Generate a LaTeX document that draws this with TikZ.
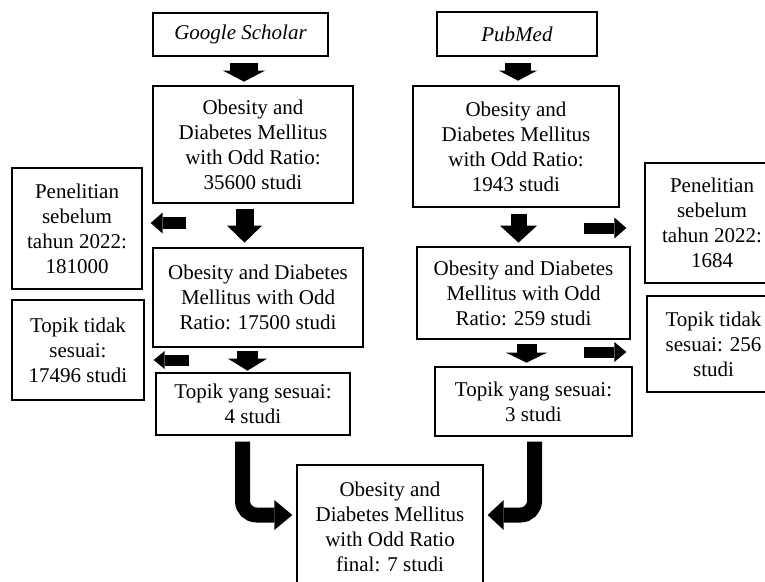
\documentclass[tikz,border=0pt]{standalone}
\usepackage{fontspec}
\setmainfont{Liberation Serif}
\usetikzlibrary{arrows.meta,calc}
\begin{document}
\begin{tikzpicture}[x=1pt,y=-1pt,
  box/.style n args={2}{draw, line width=1.3pt, align=center, inner sep=0pt,
    minimum width=#1, minimum height=#2, font=\fontsize{21}{25}\selectfont},
  blk/.style n args={3}{line width=#1, -{Triangle[length=#2,width=#3,line width=0pt]}},
  curv/.style n args={2}{line width=15pt, rounded corners=14pt,
    -{Triangle[length=#1,width=#2,line width=0pt]}}
]
\clip (0,0) rectangle (765,581);
\fill[white] (0,0) rectangle (765,581);

% boxes
\node[box={175pt}{43pt}] (gs) at (240.5,34.5) {\textit{Google Scholar}};
\node[box={160pt}{44pt}] (pm) at (517,34) {\textit{PubMed}};
\node[box={200pt}{117pt}] (gs1) at (253,144.5) {Obesity and\\Diabetes Mellitus\\with Odd Ratio:\\35600 studi};
\node[box={206pt}{121pt}] (pm1) at (516,146.5) {Obesity and\\Diabetes Mellitus\\with Odd Ratio:\\1943 studi};
\node[box={130pt}{121pt}] (pen1) at (77,228.5) {Penelitian\\sebelum\\tahun 2022:\\181000};
\node[box={134pt}{120pt}] (pen2) at (712,223) {Penelitian\\sebelum\\tahun 2022:\\1684};
\node[box={210pt}{99pt}] (gs2) at (258,297.5) {Obesity and Diabetes\\Mellitus with Odd\\Ratio: 17500 studi};
\node[box={213pt}{92pt}] (pm2) at (523.5,293) {Obesity and Diabetes\\Mellitus with Odd\\Ratio: 259 studi};
\node[box={132pt}{100pt}] (tt1) at (78,350) {Topik tidak\\sesuai:\\17496 studi};
\node[box={133pt}{96pt}] (tt2) at (713.5,344) {Topik tidak\\sesuai: 256\\studi};
\node[box={194pt}{62pt}] (gs3) at (253,404) {Topik yang sesuai:\\4 studi};
\node[box={197pt}{69pt}] (pm3) at (533.5,401.5) {Topik yang sesuai:\\3 studi};
\node[box={186pt}{123pt}] (fin) at (390,526.5) {Obesity and\\Diabetes Mellitus\\with Odd Ratio\\final: 7 studi};

% block arrows
\draw[blk={28pt}{11pt}{42pt}] ($(gs.south)+(3.5,6)$) -- ($(gs.south)+(3.5,25)$);
\draw[blk={26pt}{10pt}{38pt}] ($(pm.south)+(1,6)$) -- ($(pm.south)+(1,24)$);
\draw[blk={18pt}{17pt}{35pt}] ($(gs1.south)+(-8.5,5)$) -- ($(gs1.south)+(-8.5,39)$);
\draw[blk={12pt}{12pt}{21pt}] ($(pen1.east)+(43,-5.5)$) -- ($(pen1.east)+(8,-5.5)$);
\draw[blk={16pt}{17pt}{37pt}] ($(pm1.south)+(2.5,6)$) -- ($(pm1.south)+(2.5,35)$);
\draw[blk={11pt}{12pt}{21pt}] ($(pen2.west)+(-60,5)$) -- ($(pen2.west)+(-18,5)$);
\draw[blk={21pt}{12pt}{39pt}] ($(gs2.south)+(-10.5,3)$) -- ($(gs2.south)+(-10.5,23)$);
\draw[blk={11pt}{11pt}{18pt}] ($(tt1.east)+(44,10)$) -- ($(tt1.east)+(9,10)$);
\draw[blk={20pt}{10pt}{41pt}] ($(pm2.south)+(3,4)$) -- ($(pm2.south)+(3,23)$);
\draw[blk={11pt}{12pt}{20pt}] ($(tt2.west)+(-62,8)$) -- ($(tt2.west)+(-20,8)$);

% curved arrows to final box
\draw[curv={18pt}{30pt}] ($(gs3.south)+(-10.5,6)$) |- ($(fin.west)+(-4,-11.5)$);
\draw[curv={16pt}{30pt}] ($(pm3.south)+(1,5)$) |- ($(fin.east)+(4,-11.5)$);
\end{tikzpicture}
\end{document}
